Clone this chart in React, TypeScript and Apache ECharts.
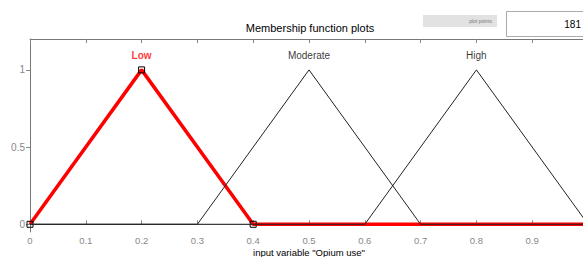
import React, { useEffect, useRef } from "react";
import * as echarts from "echarts";

const mfNames = ["Low", "Moderate", "High"];
const mfParams = [
  [0, 0.2, 0.4],
  [0.3, 0.5, 0.7],
  [0.6, 0.8, 1.0],
];
const mfColors = ["#ff0000", "#222222", "#222222"];
const xRange = [0, 1];
const yRange = [-0.05, 1.2];
const yTicks = [0, 0.5, 1];
const titleText = "Membership function plots";
const xAxisName = 'input variable "Opium use"';
const plotPointsLabel = "plot points";
const plotPointsValue = "181";

function trimfPoints(p: number[]) {
  const pts: number[][] = [];
  if (p[0] > xRange[0]) pts.push([xRange[0], 0]);
  pts.push([p[0], 0], [p[1], 1], [p[2], 0]);
  if (p[2] < xRange[1]) pts.push([xRange[1], 0]);
  return pts;
}

export default function App() {
  const ref = useRef<HTMLDivElement>(null);
  useEffect(() => {
    if (!ref.current) return;
    const chart = echarts.init(ref.current, null, { renderer: "svg" });
    const font = "Liberation Sans, Arial, sans-serif";

    const lowPts = trimfPoints(mfParams[0]).map((pt) => {
      const isVertex = mfParams[0].includes(pt[0]) && !(pt[0] === xRange[1] && !mfParams[0].includes(xRange[1]));
      return { value: pt, symbol: isVertex ? "rect" : "none" };
    });

    const series: any[] = [
      {
        type: "line",
        name: mfNames[0],
        data: lowPts,
        symbolSize: 6,
        showAllSymbol: true,
        itemStyle: { color: "rgba(0,0,0,0)", borderColor: "#000", borderWidth: 1 },
        lineStyle: { color: mfColors[0], width: 3.5 },
        z: 2,
      },
      ...mfParams.slice(1).map((p, i) => ({
        type: "line",
        name: mfNames[i + 1],
        data: trimfPoints(p),
        symbol: "none",
        lineStyle: { color: mfColors[i + 1], width: 1 },
        z: 3,
      })),
      {
        type: "scatter",
        data: mfParams.map((p, i) => ({
          value: [p[1], 1],
          name: mfNames[i],
          label: {
            color: i === 0 ? "#ff0000" : "#000",
            fontWeight: i === 0 ? "bold" : "normal",
          },
        })),
        symbolSize: 0,
        label: {
          show: true,
          position: "top",
          distance: 9,
          formatter: (d: any) => d.name,
          fontSize: 10,
          fontFamily: font,
        },
        silent: true,
        z: 4,
      },
    ];

    chart.setOption({
      animation: false,
      grid: { left: 30, top: 39, width: 558, height: 193, outerBoundsMode: "none", containLabel: false },
      xAxis: [
        {
          type: "value",
          min: xRange[0],
          max: xRange[1],
          interval: 0.1,
          axisLine: { show: true, lineStyle: { color: "#999", width: 1 } },
          axisTick: { show: true, inside: true, length: 4, lineStyle: { color: "#888" } },
          axisLabel: {
            color: "#888",
            fontSize: 9.5,
            fontFamily: font,
            margin: 3,
            lineHeight: 10,
            formatter: (v: number) => (v >= xRange[1] ? "" : String(Math.round(v * 10) / 10)),
          },
          splitLine: { show: false },
        },
        {
          type: "value",
          position: "top",
          min: xRange[0],
          max: xRange[1],
          interval: 0.1,
          axisLine: { show: true, lineStyle: { color: "#777", width: 1 } },
          axisTick: { show: true, inside: true, length: 4, lineStyle: { color: "#888" } },
          axisLabel: { show: false },
          splitLine: { show: false },
        },
      ],
      yAxis: {
        type: "value",
        min: yRange[0],
        max: yRange[1],
        axisLine: { show: true, lineStyle: { color: "#777", width: 1 } },
        axisTick: { show: true, length: 4, customValues: yTicks, lineStyle: { color: "#888" } },
        axisLabel: {
          color: "#888",
          fontSize: 10,
          fontFamily: font,
          margin: 5,
          customValues: yTicks,
          formatter: (v: number) => String(v),
        },
        splitLine: { show: false },
      },
      graphic: [
        {
          type: "text",
          x: 310,
          y: 28,
          style: {
            text: titleText,
            textAlign: "center",
            textVerticalAlign: "middle",
            fontSize: 11,
            fontFamily: font,
            fill: "#000",
          },
        },
        {
          type: "text",
          x: 309,
          y: 257,
          style: {
            text: xAxisName,
            textAlign: "center",
            textVerticalAlign: "bottom",
            fontSize: 9.5,
            lineHeight: 10,
            fontFamily: font,
            fill: "#000",
          },
        },
        {
          type: "rect",
          shape: { x: 423, y: 15, width: 74, height: 12 },
          style: { fill: "#e2e2e2" },
        },
        {
          type: "text",
          x: 492,
          y: 21,
          style: {
            text: plotPointsLabel,
            textAlign: "right",
            textVerticalAlign: "middle",
            fontSize: 5,
            fontFamily: font,
            fill: "#777",
          },
        },
        {
          type: "rect",
          shape: { x: 506.5, y: 11.5, width: 100, height: 25 },
          style: { fill: "#fff", stroke: "#aaa", lineWidth: 1 },
        },
        {
          type: "text",
          x: 581,
          y: 24,
          style: {
            text: plotPointsValue,
            textAlign: "right",
            textVerticalAlign: "middle",
            fontSize: 10,
            fontFamily: font,
            fill: "#000",
          },
        },
      ],
      series,
    });
    return () => chart.dispose();
  }, []);
  return <div ref={ref} style={{ width: 583, height: 257, position: "absolute", left: 0, top: 0, background: "#fff" }} />;
}
